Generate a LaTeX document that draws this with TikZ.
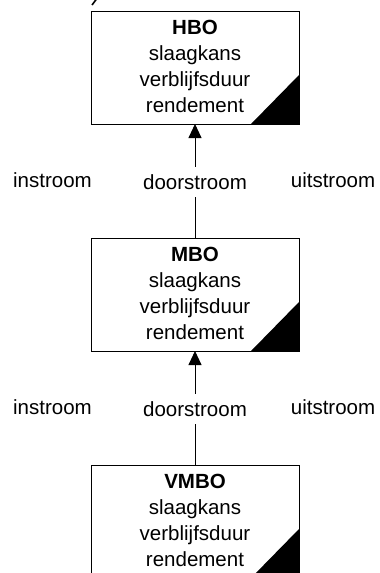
\documentclass[tikz,border=0pt]{standalone}
\usepackage{fontspec}
\setmainfont{Liberation Sans}
\usetikzlibrary{arrows.meta}
\begin{document}
\begin{tikzpicture}[x=1pt,y=-1pt,
  box/.style={draw,line width=1pt,minimum width=208pt,minimum height=113pt,inner sep=0pt,outer sep=0pt},
  boxtext/.style={font=\fontsize{20.5}{26}\selectfont,align=center,inner sep=0pt,anchor=base},
  flow/.style={font=\fontsize{20.5}{26}\selectfont,inner sep=0pt,anchor=base},
  door/.style={flow,text height=22pt,text depth=8pt},
  conn/.style={line width=0.9pt},
  tip/.style={-{Triangle[width=13pt,length=14pt]}}]
\useasboundingbox (0,0) rectangle (380,573);
\clip (0,0) rectangle (380,573);
% fragment of cut-off text at the top
\draw[line width=1.6pt] (92,5) -- (96.5,-1);
% boxes
\node[box] (hbo) at (195,67.5) {};
\node[box] (mbo) at (195,294.5) {};
\node[box] (vmbo) at (195,521.5) {};
\foreach \b in {hbo,mbo,vmbo}{
  \fill (\b.south east) -- ++(-48,0) -- ++(48,-49) -- cycle;
}
% base anchor = baseline of the last line
\node[boxtext] (hbot) at (195,112) {\textbf{HBO}\\slaagkans\\verblijfsduur\\rendement};
\node[boxtext] (mbot) at (195,339) {\textbf{MBO}\\slaagkans\\verblijfsduur\\rendement};
\node[boxtext] (vmbot) at (195,566) {\textbf{VMBO}\\slaagkans\\verblijfsduur\\rendement};
% flow labels
\node[flow] (in1) at (52.5,187) {instroom};
\node[door] (door1) at (195,189) {doorstroom};
\node[flow] (uit1) at (333,187) {uitstroom};
\node[flow] (in2) at (52.5,414) {instroom};
\node[door] (door2) at (195,416) {doorstroom};
\node[flow] (uit2) at (333,414) {uitstroom};
% connectors
\draw[conn,tip] (door1.north) -- (hbo.south);
\draw[conn] (mbo.north) -- (door1.south);
\draw[conn,tip] (door2.north) -- (mbo.south);
\draw[conn] (vmbo.north) -- (door2.south);
\end{tikzpicture}
\end{document}
